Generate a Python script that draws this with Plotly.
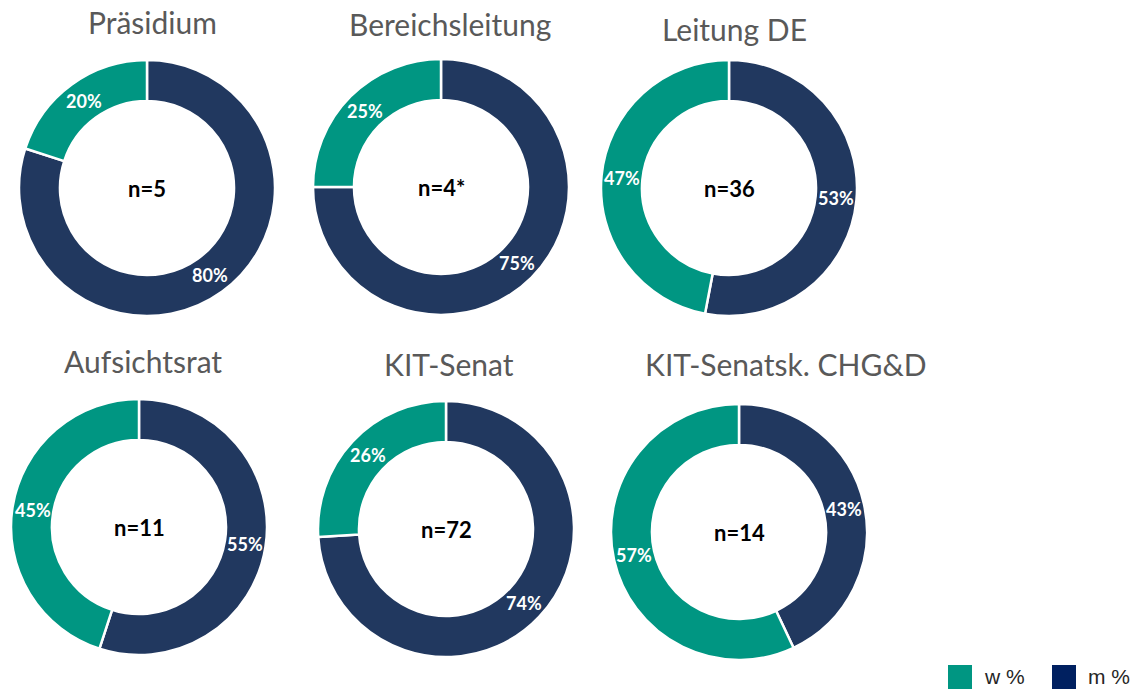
import math
import plotly.graph_objects as go

# data
gremien = ["Präsidium", "Bereichsleitung", "Leitung DE",
           "Aufsichtsrat", "KIT-Senat", "KIT-Senatsk. CHG&D"]
n_labels = ["n=5", "n=4*", "n=36", "n=11", "n=72", "n=14"]
w_pct = [20, 25, 47, 45, 26, 57]
m_pct = [80, 75, 53, 55, 74, 43]
series = ["m %", "w %"]

W, H = 1142, 691
GREEN = "#009682"
NAVY = "#21385F"
NAVY_LEG = "#002060"
HOLE = 0.68

# layout in pixels: donut centers, radius, title centers
centers = [(147, 188), (441, 187), (729, 188),
           (139, 527), (446, 529), (739, 532)]
radius = 128
title_pos = [(152, 22), (450, 24), (734, 29),
             (143, 361), (449, 364), (786, 364)]


def px_x(x):
    return x / W


def px_y(y):
    return 1 - y / H


fig = go.Figure()

for i, name in enumerate(gremien):
    cx, cy = centers[i]
    vals = [m_pct[i], w_pct[i]]
    fig.add_trace(go.Pie(
        labels=series,
        values=vals,
        textinfo="none",
        hole=HOLE,
        sort=False,
        direction="clockwise",
        rotation=0,
        marker=dict(colors=[NAVY, GREEN], line=dict(color="white", width=2.5)),
        domain=dict(x=[px_x(cx - radius), px_x(cx + radius)],
                    y=[px_y(cy + radius), px_y(cy - radius)]),
        showlegend=False,
        hoverinfo="skip",
        name=name,
    ))

    # percentage labels at the middle of each ring segment (clockwise from 12 o'clock)
    total = sum(vals)
    r_mid = radius * (1 + HOLE) / 2
    cum = 0
    for v in vals:
        ang = 2 * math.pi * (cum + v / 2) / total
        cum += v
        lx = cx + r_mid * math.sin(ang)
        ly = cy - r_mid * math.cos(ang)
        fig.add_annotation(x=px_x(lx), y=px_y(ly), xref="paper", yref="paper",
                           xanchor="center", yanchor="middle",
                           text=f"<b>{v}%</b>", showarrow=False,
                           font=dict(family="Lato", size=18, color="white"))

    # center label
    fig.add_annotation(x=px_x(cx), y=px_y(cy), xref="paper", yref="paper",
                       xanchor="center", yanchor="middle",
                       text=f"<b>{n_labels[i]}</b>", showarrow=False,
                       font=dict(family="Lato", size=22, color="black"))
    # title
    tx, ty = title_pos[i]
    fig.add_annotation(x=px_x(tx), y=px_y(ty), xref="paper", yref="paper",
                       xanchor="center", yanchor="middle",
                       text=name, showarrow=False,
                       font=dict(family="Lato", size=30, color="#595959"))

# legend drawn by hand (bottom right)
legend_items = [("w %", GREEN, 948), ("m %", NAVY_LEG, 1052)]
for label, col, x0 in legend_items:
    fig.add_shape(type="rect", xref="paper", yref="paper",
                  x0=px_x(x0), x1=px_x(x0 + 24),
                  y0=px_y(689), y1=px_y(665),
                  fillcolor=col, line=dict(width=0))
    fig.add_annotation(x=px_x(x0 + 34), y=px_y(676), xref="paper", yref="paper",
                       text=label, showarrow=False,
                       xanchor="left", yanchor="middle",
                       font=dict(family="Liberation Sans", size=21, color="#262626"))

fig.update_layout(
    width=W, height=H,
    margin=dict(l=0, r=0, t=0, b=0),
    paper_bgcolor="white",
    plot_bgcolor="white",
)

fig.write_html("out.html", config={"displayModeBar": False},
               post_script="document.body.style.margin='0';")
